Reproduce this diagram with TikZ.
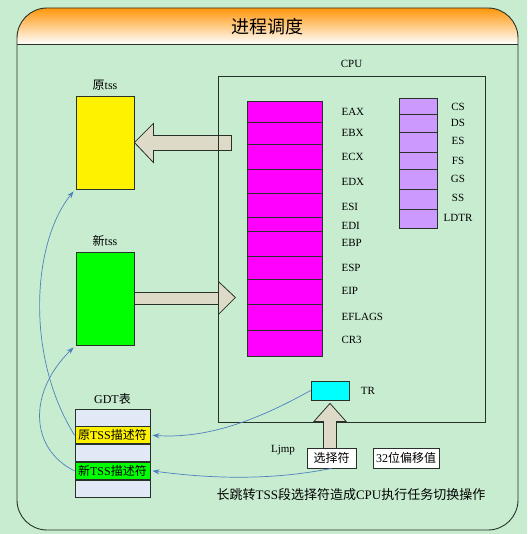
\documentclass[tikz,border=0pt]{standalone}
\usepackage{fontspec}
\setmainfont{Liberation Serif}
\newfontfamily\cjk{Noto Sans CJK SC}
\usetikzlibrary{arrows.meta,positioning}

\definecolor{bgGreen}{RGB}{199,236,208}
\definecolor{hdrOrange}{RGB}{255,150,10}
\definecolor{regMagenta}{RGB}{255,0,255}
\definecolor{segPurple}{RGB}{204,153,255}
\definecolor{gdtGrey}{RGB}{226,233,246}
\definecolor{fatFill}{RGB}{221,218,200}
\definecolor{linkBlue}{RGB}{79,129,189}
\definecolor{trCyan}{RGB}{0,255,255}
\definecolor{edge}{RGB}{40,50,40}

\begin{document}
\begin{tikzpicture}[x=1pt,y=-1pt,node distance=2pt,font=\fontsize{11}{13}\selectfont]
		\tikzstyle{box} = [rectangle, draw=edge, line width=0.8pt, inner sep=0pt]
		\tikzstyle{tssbox} = [box, minimum width=58pt, minimum height=93pt]
		\tikzstyle{regcell} = [box, fill=regMagenta, minimum width=75pt]
		\tikzstyle{segcell} = [box, fill=segPurple, minimum width=38pt]
		\tikzstyle{gdtrow} = [box, fill=gdtGrey, minimum width=75pt, minimum height=17pt, font=\fontsize{12}{14}\selectfont]
		\tikzstyle{field} = [box, fill=white, minimum height=20pt, font=\fontsize{12}{14}\selectfont]
		\tikzstyle{fat} = [draw=edge, fill=fatFill, line width=0.8pt]
		\tikzstyle{link} = [->, >={Stealth[length=7pt,width=5pt]}, draw=linkBlue, line width=0.7pt]
		% page and frame
		\fill[bgGreen] (0,0) rectangle (527,534);
		\useasboundingbox (0,0) rectangle (527,534);
		\begin{scope}
			\clip[rounded corners=30pt] (17,8) rectangle (518,530);
			\shade[top color=hdrOrange, bottom color=white] (17,8) rectangle (518,44);
		\end{scope}
		\draw[edge, line width=0.9pt, rounded corners=30pt] (17,8) rectangle (518,530);
		\draw[edge, line width=0.9pt] (17,44) -- (518,44);
		\node (title) at (267,27) {\fontsize{18}{20}\selectfont\cjk 进程调度};
		% tss boxes
		\node (oldtss) [tssbox, fill=yellow] at (105,142.5) {};
		\node (newtss) [tssbox, fill=green] at (105,298.5) {};
		\node (lblOld) [above=2pt of oldtss] {\fontsize{12}{14}\selectfont{\cjk 原}tss};
		\node (lblNew) [above=2pt of newtss] {\fontsize{12}{14}\selectfont{\cjk 新}tss};
		% fat arrows
		\draw[fat] (oldtss.east) -- ++(19,-19) -- ++(0,12) -- ++(78,0) -- ++(0,15) -- ++(-78,0) -- ++(0,12) -- cycle;
		\draw[fat] (newtss.east) ++(0,-6) -- ++(84,0) -- ++(0,-11) -- ++(17,16) -- ++(-17,17) -- ++(0,-10) -- ++(-84,0) -- cycle;
		% cpu
		\node (cpu) [box, minimum width=267pt, minimum height=346pt] at (351.5,249) {};
		\node (lblCPU) [above=4pt of cpu] {CPU};
		\foreach \name/\ya/\yb/\ly in {EAX/101/122/112, EBX/122/144/133, ECX/144/169/157, EDX/169/193/182, ESI/193/217/207, EDI/217/231/226, EBP/231/256/243, ESP/256/279/268, EIP/279/304/291, EFLAGS/304/330/317, CR3/330/356/340}{
			\pgfmathsetmacro\hh{\yb-\ya}
			\node (cell\name) [regcell, minimum height=\hh pt] at (284.5,{(\ya+\yb)/2}) {};
			\node (lbl\name) [anchor=west] at (338,\ly) {\name};
		}
		\foreach \name/\ya/\yb/\ly in {CS/98/114/107, DS/114/132/123, ES/132/152/141, FS/152/169/161, GS/169/189/179, SS/189/209/198, LDTR/209/228/218}{
			\pgfmathsetmacro\hh{\yb-\ya}
			\node (cell\name) [segcell, minimum height=\hh pt] at (418,{(\ya+\yb)/2}) {};
			\node (lbl\name) at (458,\ly) {\name};
		}
		\node (tr) [box, fill=trCyan, minimum width=38pt, minimum height=19pt] at (330,390.5) {};
		\node (lblTR) [right=8pt of tr] {TR};
		% gdt
		\node (gdtTop) [gdtrow] at (112.5,417.5) {};
		\node (olddesc) [gdtrow, fill=yellow, below=0pt of gdtTop] {{\cjk 原}TSS{\cjk 描述符}};
		\node (gdtMid) [gdtrow, below=0pt of olddesc] {};
		\node (newdesc) [gdtrow, fill=green, below=0pt of gdtMid] {{\cjk 新}TSS{\cjk 描述符}};
		\node (gdtBot) [gdtrow, below=0pt of newdesc] {};
		\node (lblGDT) [above=1pt of gdtTop] {\fontsize{12}{14}\selectfont GDT{\cjk 表}};
		% far jump operand
		\node (sel) [field, minimum width=49pt] at (331.5,458) {\cjk 选择符};
		\node (offset) [field, minimum width=66pt] at (406,458) {32{\cjk 位偏移值}};
		\node (ljmp) at (283,450) {Ljmp};
		\node (note) at (351,495) {\fontsize{13}{15}\selectfont{\cjk 长跳转}TSS{\cjk 段选择符造成}CPU{\cjk 执行任务切换操作}};
		\draw[fat] (tr.south) ++(0,3) -- ++(16,18) -- ++(-9.5,0) -- ++(0,27) -- ++(-13,0) -- ++(0,-27) -- ++(-9.5,0) -- cycle;
		% links
		\draw[link] (tr.west) .. controls +(-45,25) and +(60,4) .. ([xshift=2pt]olddesc.east);
		\draw[link] (sel.south) .. controls +(-60,12) and +(60,8) .. ([xshift=2pt]newdesc.east);
		\draw[link] (olddesc.west) .. controls +(-50,-80) and +(-41,50) .. ([shift={(-2,2)}]oldtss.south west);
		\draw[link] (newdesc.west) .. controls +(-45,-22) and +(-46,45) .. ([shift={(-2,2)}]newtss.south west);
\end{tikzpicture}
\end{document}
